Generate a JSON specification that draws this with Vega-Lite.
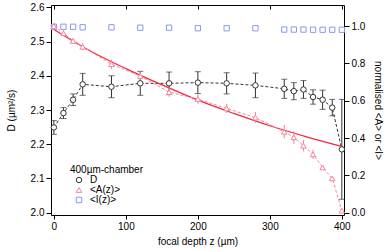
{
  "$schema": "https://vega.github.io/schema/vega-lite/v6.json",
  "width": 293,
  "height": 210,
  "autosize": "none",
  "padding": {"left": 51, "top": 5, "right": 48, "bottom": 37},
  "background": "white",
  "config": {
    "font": "Liberation Sans",
    "view": {"stroke": "#000", "strokeWidth": 1},
    "axis": {
      "grid": false,
      "labelFont": "Liberation Sans",
      "titleFont": "Liberation Sans",
      "labelFontSize": 10,
      "titleFontSize": 10,
      "titleFontWeight": "normal",
      "labelColor": "#000",
      "titleColor": "#000",
      "tickColor": "#000",
      "domainColor": "#000",
      "tickSize": 5,
      "labelPadding": 2
    },
    "legend": {
      "labelFont": "Liberation Sans",
      "titleFont": "Liberation Sans",
      "labelFontSize": 10,
      "titleFontSize": 10,
      "titleFontWeight": "normal",
      "labelColor": "#000",
      "titleColor": "#000"
    }
  },
  "datasets": {
    "D": [
      {"z": 0, "D": 2.249, "lo": 2.229, "hi": 2.269, "series": "D"},
      {"z": 13.3, "D": 2.291, "lo": 2.275, "hi": 2.307, "series": "D"},
      {"z": 26.7, "D": 2.330, "lo": 2.313, "hi": 2.347, "series": "D"},
      {"z": 40, "D": 2.375, "lo": 2.343, "hi": 2.407, "series": "D"},
      {"z": 80, "D": 2.368, "lo": 2.336, "hi": 2.400, "series": "D"},
      {"z": 120, "D": 2.378, "lo": 2.343, "hi": 2.413, "series": "D"},
      {"z": 160, "D": 2.378, "lo": 2.345, "hi": 2.411, "series": "D"},
      {"z": 200, "D": 2.380, "lo": 2.348, "hi": 2.412, "series": "D"},
      {"z": 240, "D": 2.378, "lo": 2.347, "hi": 2.409, "series": "D"},
      {"z": 280, "D": 2.372, "lo": 2.336, "hi": 2.408, "series": "D"},
      {"z": 320, "D": 2.362, "lo": 2.334, "hi": 2.390, "series": "D"},
      {"z": 333.3, "D": 2.355, "lo": 2.330, "hi": 2.380, "series": "D"},
      {"z": 346.7, "D": 2.360, "lo": 2.334, "hi": 2.386, "series": "D"},
      {"z": 360, "D": 2.338, "lo": 2.317, "hi": 2.359, "series": "D"},
      {"z": 373.3, "D": 2.330, "lo": 2.302, "hi": 2.358, "series": "D"},
      {"z": 386.7, "D": 2.307, "lo": 2.283, "hi": 2.331, "series": "D"},
      {"z": 400, "D": 2.185, "lo": 2.039, "hi": 2.331, "series": "D"}
    ],
    "A": [
      {"z": 0, "A": 1.0, "lo": 0.99, "hi": 1.01, "series": "<A(z)>"},
      {"z": 13.3, "A": 0.961, "lo": 0.946, "hi": 0.976, "series": "<A(z)>"},
      {"z": 26.7, "A": 0.920, "lo": 0.905, "hi": 0.935, "series": "<A(z)>"},
      {"z": 40, "A": 0.889, "lo": 0.869, "hi": 0.909, "series": "<A(z)>"},
      {"z": 80, "A": 0.795, "lo": 0.770, "hi": 0.820, "series": "<A(z)>"},
      {"z": 120, "A": 0.732, "lo": 0.707, "hi": 0.757, "series": "<A(z)>"},
      {"z": 160, "A": 0.646, "lo": 0.621, "hi": 0.671, "series": "<A(z)>"},
      {"z": 200, "A": 0.609, "lo": 0.584, "hi": 0.634, "series": "<A(z)>"},
      {"z": 240, "A": 0.559, "lo": 0.534, "hi": 0.584, "series": "<A(z)>"},
      {"z": 280, "A": 0.510, "lo": 0.480, "hi": 0.540, "series": "<A(z)>"},
      {"z": 320, "A": 0.434, "lo": 0.398, "hi": 0.470, "series": "<A(z)>"},
      {"z": 333.3, "A": 0.404, "lo": 0.369, "hi": 0.439, "series": "<A(z)>"},
      {"z": 346.7, "A": 0.359, "lo": 0.329, "hi": 0.389, "series": "<A(z)>"},
      {"z": 360, "A": 0.313, "lo": 0.288, "hi": 0.338, "series": "<A(z)>"},
      {"z": 373.3, "A": 0.243, "lo": 0.233, "hi": 0.253, "series": "<A(z)>"},
      {"z": 386.7, "A": 0.184, "lo": 0.174, "hi": 0.194, "series": "<A(z)>"},
      {"z": 400, "A": 0.011, "lo": 0.006, "hi": 0.016, "series": "<A(z)>"}
    ],
    "I": [
      {"z": 0, "I": 0.996, "series": "<I(z)>"},
      {"z": 13.3, "I": 0.996, "series": "<I(z)>"},
      {"z": 26.7, "I": 0.996, "series": "<I(z)>"},
      {"z": 40, "I": 0.993, "series": "<I(z)>"},
      {"z": 80, "I": 0.993, "series": "<I(z)>"},
      {"z": 120, "I": 0.991, "series": "<I(z)>"},
      {"z": 160, "I": 0.991, "series": "<I(z)>"},
      {"z": 200, "I": 0.988, "series": "<I(z)>"},
      {"z": 240, "I": 0.988, "series": "<I(z)>"},
      {"z": 280, "I": 0.988, "series": "<I(z)>"},
      {"z": 320, "I": 0.981, "series": "<I(z)>"},
      {"z": 333.3, "I": 0.981, "series": "<I(z)>"},
      {"z": 346.7, "I": 0.981, "series": "<I(z)>"},
      {"z": 360, "I": 0.980, "series": "<I(z)>"},
      {"z": 373.3, "I": 0.980, "series": "<I(z)>"},
      {"z": 386.7, "I": 0.980, "series": "<I(z)>"},
      {"z": 400, "I": 0.980, "series": "<I(z)>"}
    ],
    "fit": [
      {"z": 0, "v": 0.982},
      {"z": 50, "v": 0.868},
      {"z": 100, "v": 0.772},
      {"z": 150, "v": 0.685},
      {"z": 200, "v": 0.603},
      {"z": 250, "v": 0.532},
      {"z": 300, "v": 0.466},
      {"z": 350, "v": 0.408},
      {"z": 400, "v": 0.355}
    ]
  },
  "resolve": {"scale": {"y": "independent"}, "axis": {"x": "independent", "y": "independent"}},
  "layer": [
    {
      "data": {"name": "D"},
      "mark": {"type": "line", "color": "#333", "strokeWidth": 1, "strokeDash": [3, 2]},
      "encoding": {
        "x": {"field": "z", "type": "quantitative", "scale": {"domain": [-4, 403], "nice": false, "zero": false},
          "axis": {"orient": "bottom", "values": [0, 100, 200, 300, 400], "title": "focal depth z (µm)", "domain": false, "tickSize": 4, "titlePadding": 5}},
        "y": {"field": "D", "type": "quantitative", "scale": {"domain": [1.993, 2.607], "nice": false, "zero": false},
          "axis": {"orient": "left", "values": [2.0, 2.1, 2.2, 2.3, 2.4, 2.5, 2.6], "format": ".1f", "title": "D (µm²/s)", "domain": false, "titlePadding": 14}}
      }
    },
    {
      "data": {"name": "D"},
      "mark": {"type": "rule", "color": "#333", "strokeWidth": 1},
      "encoding": {
        "x": {"field": "z", "type": "quantitative", "axis": {"orient": "top", "values": [0, 100, 200, 300, 400], "labels": false, "title": null, "domain": false, "ticks": true, "tickSize": 4, "offset": -4}},
        "y": {"field": "lo", "type": "quantitative", "scale": {"domain": [1.993, 2.607], "nice": false, "zero": false}, "axis": null},
        "y2": {"field": "hi"}
      }
    },
    {
      "data": {"name": "D"},
      "mark": {"type": "tick", "orient": "horizontal", "color": "#333", "size": 6, "thickness": 1},
      "encoding": {
        "x": {"field": "z", "type": "quantitative", "axis": null},
        "y": {"field": "lo", "type": "quantitative", "scale": {"domain": [1.993, 2.607], "nice": false, "zero": false}, "axis": null}
      }
    },
    {
      "data": {"name": "D"},
      "mark": {"type": "tick", "orient": "horizontal", "color": "#333", "size": 6, "thickness": 1},
      "encoding": {
        "x": {"field": "z", "type": "quantitative", "axis": null},
        "y": {"field": "hi", "type": "quantitative", "scale": {"domain": [1.993, 2.607], "nice": false, "zero": false}, "axis": null}
      }
    },
    {
      "data": {"name": "fit"},
      "mark": {"type": "line", "color": "#f2283f", "strokeWidth": 1.2, "interpolate": "monotone"},
      "encoding": {
        "x": {"field": "z", "type": "quantitative", "axis": null},
        "y": {"field": "v", "type": "quantitative", "scale": {"domain": [-0.012, 1.1125], "nice": false, "zero": false},
          "axis": {"orient": "right", "values": [0.0, 0.2, 0.4, 0.6, 0.8, 1.0], "format": ".1f", "title": "normalised <A> or <I>", "domain": false, "titlePadding": 8}}
      }
    },
    {
      "data": {"name": "A"},
      "mark": {"type": "line", "color": "#f7839b", "strokeWidth": 1, "strokeDash": [3, 2]},
      "encoding": {
        "x": {"field": "z", "type": "quantitative", "axis": null},
        "y": {"field": "A", "type": "quantitative", "scale": {"domain": [-0.012, 1.1125], "nice": false, "zero": false}, "axis": null}
      }
    },
    {
      "data": {"name": "A"},
      "mark": {"type": "rule", "color": "#f7839b", "strokeWidth": 1},
      "encoding": {
        "x": {"field": "z", "type": "quantitative", "axis": null},
        "y": {"field": "lo", "type": "quantitative", "scale": {"domain": [-0.012, 1.1125], "nice": false, "zero": false}, "axis": null},
        "y2": {"field": "hi"}
      }
    },
    {
      "data": {"name": "I"},
      "mark": {"type": "point", "fill": "white", "filled": false, "strokeWidth": 1, "size": 28, "opacity": 1},
      "encoding": {
        "x": {"field": "z", "type": "quantitative", "axis": null},
        "y": {"field": "I", "type": "quantitative", "scale": {"domain": [-0.012, 1.1125], "nice": false, "zero": false}, "axis": null},
        "stroke": {"field": "series", "type": "nominal", "scale": {"domain": ["D", "<A(z)>", "<I(z)>"], "range": ["#333333", "#f7839b", "#8a97ef"]}},
        "shape": {"field": "series", "type": "nominal", "scale": {"domain": ["D", "<A(z)>", "<I(z)>"], "range": ["circle", "triangle-up", "square"]}}
      }
    },
    {
      "data": {"name": "A"},
      "mark": {"type": "point", "fill": "white", "filled": false, "strokeWidth": 1, "size": 30, "opacity": 1},
      "encoding": {
        "x": {"field": "z", "type": "quantitative", "axis": null},
        "y": {"field": "A", "type": "quantitative", "scale": {"domain": [-0.012, 1.1125], "nice": false, "zero": false}, "axis": null},
        "stroke": {"field": "series", "type": "nominal", "scale": {"domain": ["D", "<A(z)>", "<I(z)>"], "range": ["#333333", "#f7839b", "#8a97ef"]}},
        "shape": {"field": "series", "type": "nominal", "scale": {"domain": ["D", "<A(z)>", "<I(z)>"], "range": ["circle", "triangle-up", "square"]}}
      }
    },
    {
      "data": {"name": "D"},
      "mark": {"type": "point", "fill": "white", "filled": false, "strokeWidth": 1, "size": 30, "opacity": 1},
      "encoding": {
        "x": {"field": "z", "type": "quantitative", "axis": null},
        "y": {"field": "D", "type": "quantitative", "scale": {"domain": [1.993, 2.607], "nice": false, "zero": false}, "axis": null},
        "stroke": {"field": "series", "type": "nominal",
          "scale": {"domain": ["D", "<A(z)>", "<I(z)>"], "range": ["#333333", "#f7839b", "#8a97ef"]},
          "legend": {"title": "400µm-chamber", "orient": "none", "legendX": 19, "legendY": 160, "symbolSize": 30, "symbolStrokeWidth": 1, "rowPadding": 0, "titlePadding": 0, "symbolOffset": 4, "labelOffset": 6, "symbolFillColor": "white"}},
        "shape": {"field": "series", "type": "nominal",
          "scale": {"domain": ["D", "<A(z)>", "<I(z)>"], "range": ["circle", "triangle-up", "square"]},
          "legend": {"title": "400µm-chamber", "orient": "none", "legendX": 19, "legendY": 160, "symbolSize": 30, "symbolStrokeWidth": 1, "rowPadding": 0, "titlePadding": 0, "symbolOffset": 4, "labelOffset": 6, "symbolFillColor": "white"}}
      }
    }
  ]
}
